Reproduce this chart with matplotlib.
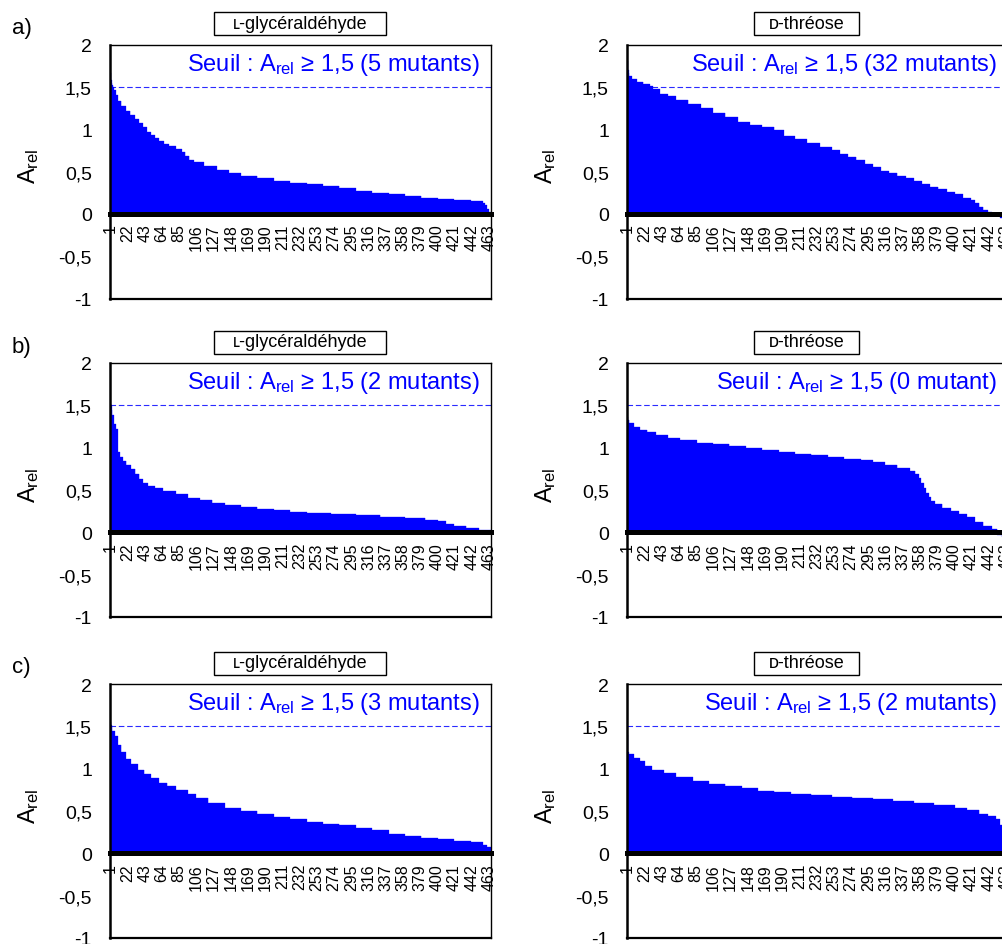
import numpy as np
import matplotlib
matplotlib.use('Agg')
import matplotlib.pyplot as plt
from matplotlib.patches import Rectangle
from matplotlib.ticker import FuncFormatter

plt.rcParams['font.family'] = ['Liberation Sans', 'DejaVu Sans']
plt.rcParams['mathtext.default'] = 'regular'
plt.rcParams['axes.unicode_minus'] = False

# valeurs triées d'A_rel, codées en paliers : (valeur, nombre de mutants)
gly_a_vals = [1.66, 1.58, 1.55, 1.52, 1.50, 1.46, 1.40, 1.33, 1.27, 1.22, 1.17, 1.12, 1.07, 1.02,
              0.97, 0.93, 0.89, 0.86, 0.83, 0.80, 0.77, 0.73, 0.68, 0.64, 0.61, 0.57, 0.52, 0.48,
              0.45, 0.42, 0.39, 0.37, 0.35, 0.33, 0.30, 0.27, 0.25, 0.23, 0.21, 0.19, 0.18, 0.165,
              0.155, 0.13, 0.10, 0.06, 0.02]
gly_a_counts = [1, 1, 1, 1, 1, 2, 3, 4, 5, 6, 5, 5, 5, 5,
                5, 5, 5, 6, 6, 8, 8, 4, 5, 5, 13, 15, 15, 15,
                20, 20, 20, 20, 20, 20, 20, 20, 20, 20, 20, 20, 20, 20,
                15, 3, 2, 2, 3]

thr_a_vals = [1.80, 1.70, 1.66, 1.63, 1.59, 1.56, 1.53, 1.51, 1.47, 1.42, 1.39, 1.35, 1.30, 1.25,
              1.19, 1.14, 1.09, 1.05, 1.02, 0.99, 0.92, 0.88, 0.84, 0.79, 0.75, 0.71, 0.67, 0.63,
              0.59, 0.55, 0.51, 0.48, 0.45, 0.42, 0.39, 0.35, 0.32, 0.29, 0.26, 0.23, 0.19, 0.16,
              0.13, 0.08, 0.04, 0.02, 0.005, -0.02, -0.05, -0.08]
thr_a_counts = [1, 1, 1, 3, 6, 8, 8, 4, 8, 10, 10, 15, 15, 15,
                15, 15, 15, 15, 15, 12, 13, 15, 15, 15, 10, 10, 10, 10,
                10, 10, 10, 10, 10, 10, 10, 10, 10, 10, 10, 10, 10, 5,
                5, 5, 5, 5, 5, 5, 5, 5]

gly_b_vals = [1.52, 1.50, 1.44, 1.38, 1.28, 1.22, 0.95, 0.89, 0.84, 0.80, 0.75, 0.69, 0.63, 0.58,
              0.55, 0.52, 0.49, 0.45, 0.41, 0.38, 0.35, 0.32, 0.30, 0.28, 0.26, 0.24, 0.225, 0.215,
              0.20, 0.185, 0.17, 0.15, 0.13, 0.10, 0.07, 0.05, 0.03]
gly_b_counts = [1, 1, 1, 2, 2, 3, 2, 4, 4, 6, 5, 5, 4, 6,
                9, 10, 15, 15, 15, 15, 15, 20, 20, 20, 20, 20, 30, 30,
                30, 30, 25, 15, 10, 10, 15, 15, 15]

thr_b_vals = [1.36, 1.33, 1.29, 1.25, 1.21, 1.18, 1.15, 1.12, 1.09, 1.06, 1.04, 1.02, 1.00, 0.97,
              0.95, 0.93, 0.91, 0.89, 0.87, 0.85, 0.83, 0.80, 0.76, 0.73, 0.69, 0.64, 0.58, 0.52,
              0.47, 0.42, 0.37, 0.33, 0.29, 0.25, 0.22, 0.18, 0.12, 0.08, 0.04, -0.03, -0.06]
thr_b_counts = [1, 2, 5, 8, 9, 10, 15, 15, 20, 20, 20, 20, 20, 20,
                20, 20, 20, 20, 20, 15, 15, 15, 15, 7, 4, 3, 3, 3,
                3, 3, 5, 9, 10, 10, 10, 10, 10, 10, 7, 6, 7]

gly_c_vals = [1.55, 1.52, 1.50, 1.45, 1.38, 1.28, 1.20, 1.12, 1.05, 0.99, 0.94, 0.89, 0.83, 0.79,
              0.75, 0.70, 0.65, 0.59, 0.54, 0.50, 0.46, 0.43, 0.40, 0.37, 0.35, 0.33, 0.30, 0.27,
              0.23, 0.20, 0.18, 0.165, 0.15, 0.13, 0.10, 0.07]
gly_c_counts = [1, 1, 1, 3, 4, 4, 5, 7, 8, 8, 8, 10, 10, 10,
                15, 10, 15, 20, 20, 20, 20, 20, 20, 20, 20, 20, 20, 20,
                20, 20, 20, 20, 20, 15, 5, 5]

thr_c_vals = [1.40, 1.20, 1.17, 1.13, 1.09, 1.03, 0.99, 0.95, 0.90, 0.86, 0.82, 0.79, 0.77, 0.74,
              0.72, 0.70, 0.685, 0.67, 0.655, 0.64, 0.62, 0.60, 0.57, 0.54, 0.51, 0.47, 0.44, 0.40,
              0.33, 0.25]
thr_c_counts = [1, 1, 6, 8, 6, 8, 15, 15, 20, 20, 20, 20, 20, 20,
                20, 25, 25, 25, 25, 25, 25, 25, 25, 15, 15, 10, 10, 5,
                5, 5]

row_letters = ['a)', 'b)', 'c)']
col_titles = ['\u029f-glycéraldéhyde', '\u1d05-thréose']
n_seuil = [['5 mutants', '32 mutants'],
           ['2 mutants', '0 mutant'],
           ['3 mutants', '2 mutants']]
panels = [[(gly_a_vals, gly_a_counts), (thr_a_vals, thr_a_counts)],
          [(gly_b_vals, gly_b_counts), (thr_b_vals, thr_b_counts)],
          [(gly_c_vals, gly_c_counts), (thr_c_vals, thr_c_counts)]]
seuil = 1.5
pas = 21

W, H = 1002, 945
fig = plt.figure(figsize=(W / 100, H / 100), dpi=100)

col_left = [110, 627]
row_top = [45.5, 364, 685]
ax_w, ax_h = 381, 254
box_x = [(214, 172), (754, 105)]
bleu = '#0000ff'

virgule = FuncFormatter(lambda v, p: ('%g' % v).replace('.', ','))

for r in range(3):
    for c in range(2):
        x0, top = col_left[c], row_top[r]
        ax = fig.add_axes([x0 / W, 1 - (top + ax_h) / H, ax_w / W, ax_h / H])
        # axe des x croisant à 0 (à faire avant les ticks, sinon ils sont réinitialisés)
        ax.spines['bottom'].set_position(('data', 0))
        ax.spines['bottom'].set_linewidth(3.6)
        ax.spines['bottom'].set_zorder(3)
        ax.spines['left'].set_linewidth(1.8)
        ax.spines['top'].set_linewidth(1.0)
        ax.spines['right'].set_linewidth(1.0)

        vals, counts = panels[r][c]
        y = np.repeat(vals, counts)
        idx = np.arange(1, len(y) + 1)
        ax.bar(idx, y, width=1.0, color=bleu, edgecolor=bleu, linewidth=0.2, zorder=2)
        ax.axhline(seuil, color='#2b2bff', lw=0.8, dashes=(5, 2.5), zorder=1)
        ax.axhline(-1, color='black', lw=1.6, clip_on=False)

        ax.set_xlim(0.5, len(y) + 0.5)
        ax.set_ylim(-1, 2)
        ax.set_yticks(np.arange(-1, 2.01, 0.5))
        ax.yaxis.set_major_formatter(virgule)
        ax.set_xticks(idx[::pas])
        ax.set_xticklabels([str(i) for i in idx[::pas]])
        ax.tick_params(axis='x', length=0, pad=7, labelsize=11.5, labelrotation=90)
        ax.tick_params(axis='y', length=0, pad=13, labelsize=14)

        ax.text(0.971, 0.925, 'Seuil : A$_{rel}$ \u2265 1,5 (%s)' % n_seuil[r][c],
                transform=ax.transAxes, ha='right', va='center', color=bleu, fontsize=17)

        fig.text((x0 - 81.5) / W, 1 - (top + ax_h / 2 - 6) / H, 'A$_{rel}$',
                 rotation=90, ha='center', va='center', fontsize=17)

        bx, bw = box_x[c]
        fig.patches.append(Rectangle((bx / W, 1 - (top - 9.5) / H), bw / W, 23 / H,
                                     transform=fig.transFigure, facecolor='white',
                                     edgecolor='black', lw=1.0))
        fig.text((bx + bw / 2) / W, 1 - (top - 21) / H, col_titles[c],
                 ha='center', va='center', fontsize=13)

    fig.text(12 / W, 1 - (row_top[r] - 17) / H, row_letters[r],
             ha='left', va='center', fontsize=16)

fig.savefig('out.png', dpi=100)
